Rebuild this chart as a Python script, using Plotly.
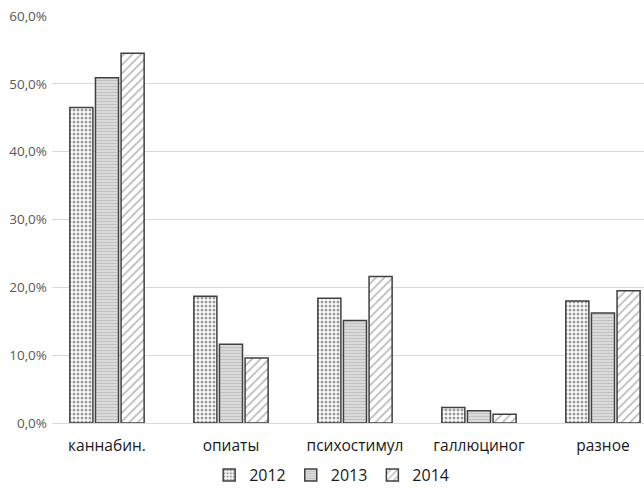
import plotly.graph_objects as go

categories = ["каннабин.", "опиаты", "психостимул", "галлюциног", "разное"]
years = ["2012", "2013", "2014"]
share_2012 = [0.465, 0.187, 0.184, 0.023, 0.180]
share_2013 = [0.509, 0.116, 0.151, 0.018, 0.162]
share_2014 = [0.545, 0.096, 0.216, 0.013, 0.195]

series = [share_2012, share_2013, share_2014]
patterns = [
    dict(shape=".", fgcolor="#3a3a3a", bgcolor="#ffffff", size=4, solidity=0.45),
    dict(shape="-", fgcolor="#a8a8a8", bgcolor="#dcdcdc", size=3, solidity=0.4),
    dict(shape="/", fgcolor="#777777", bgcolor="#ffffff", size=6, solidity=0.3),
]

fig = go.Figure()
for name, vals, pat in zip(years, series, patterns):
    fig.add_trace(go.Bar(
        name=name, x=categories, y=vals,
        marker=dict(color="#ffffff", pattern=pat,
                    line=dict(color="#404040", width=1.5)),
    ))

fig.update_layout(
    width=644, height=492,
    margin=dict(l=52, r=0, t=16, b=69, autoexpand=False),
    plot_bgcolor="white", paper_bgcolor="white",
    separators=", ",
    barmode="group", bargap=0.38, bargroupgap=0.1,
    font=dict(family="Open Sans, Liberation Sans, sans-serif", color="#1a1a1a"),
    legend=dict(orientation="h", x=0.515, xref="container", xanchor="center",
                y=0.0, yref="container", yanchor="bottom",
                font=dict(size=16, color="#1a1a1a"), itemwidth=30,
                traceorder="normal"),
)
fig.update_yaxes(range=[0, 0.6], dtick=0.1, tickformat=".1%",
                 gridcolor="#d9d9d9", gridwidth=1, zeroline=False,
                 tickfont=dict(size=13.5, color="#595959"),
                 ticks="", ticklabelstandoff=4, fixedrange=True,
                 automargin=False)
fig.update_xaxes(showline=True, linecolor="#d9d9d9", linewidth=1,
                 range=[-0.4435, 4.331],
                 tickfont=dict(size=15.5, color="#1a1a1a"), ticks="",
                 ticklabelstandoff=8, automargin=False)

fig.write_html("out.html")
